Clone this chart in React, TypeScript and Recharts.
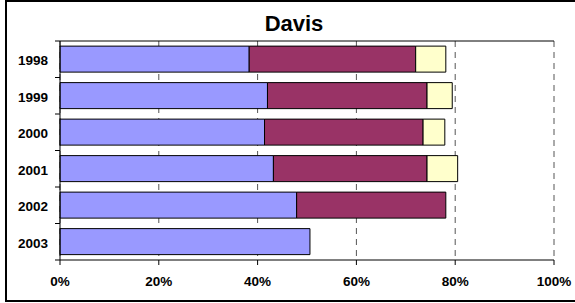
import React from 'react';
import { BarChart, Bar, XAxis, YAxis, CartesianGrid } from 'recharts';

const years = ['1998', '1999', '2000', '2001', '2002', '2003'];
const blueShare = [38.3, 42.0, 41.4, 43.2, 47.9, 50.6];
const maroonShare = [33.7, 32.3, 32.1, 31.1, 30.2, 0];
const yellowShare = [6.1, 5.1, 4.4, 6.2, 0, 0];
const pctTicks = [0, 20, 40, 60, 80, 100];

const data = years.map((year, i) => ({
  year,
  blue: blueShare[i],
  maroon: maroonShare[i],
  yellow: yellowShare[i],
}));

const FONT = '"Liberation Sans", Arial, sans-serif';

// category labels plus Excel-style tick marks on the band boundaries
const YearTick = (props: any) => {
  const { x, y, payload, index, visibleTicksCount } = props;
  const half = payload && payload.offset ? payload.offset : 18.25;
  const axisX = x + 12;
  const last = index === visibleTicksCount - 1;
  return (
    <g>
      <text
        x={x}
        y={y + 6}
        textAnchor="end"
        fontFamily={FONT}
        fontWeight="bold"
        fontSize={13.5}
        fill="#000"
      >
        {payload.value}
      </text>
      <line x1={axisX - 5} x2={axisX} y1={y - half} y2={y - half} stroke="#000" />
      {last && <line x1={axisX - 5} x2={axisX} y1={y + half} y2={y + half} stroke="#000" />}
    </g>
  );
};

const App: React.FC = () => {
  return (
    <div
      style={{
        position: 'absolute',
        left: 0,
        top: 0,
        width: 575,
        height: 303,
        overflow: 'hidden',
        background: '#fff',
      }}
    >
      <div
        style={{
          position: 'absolute',
          left: 5,
          top: 0,
          width: 620,
          height: 302,
          boxSizing: 'border-box',
          border: '2px solid #000',
        }}
      />
      <div
        style={{
          position: 'absolute',
          left: 5,
          top: 13,
          width: 578,
          textAlign: 'center',
          fontFamily: FONT,
          fontWeight: 'bold',
          fontSize: 22,
          lineHeight: '22px',
          color: '#000',
        }}
      >
        Davis
      </div>
      <div style={{ position: 'absolute', left: 0, top: 0 }}>
        <BarChart
          width={575}
          height={303}
          data={data}
          layout="vertical"
          margin={{ top: 40, right: 21, bottom: 13, left: 5 }}
          barCategoryGap="14%"
        >
          <CartesianGrid horizontal={false} stroke="#555" strokeDasharray="6 5" />
          <XAxis
            type="number"
            domain={[0, 100]}
            ticks={pctTicks}
            tickFormatter={(v: number) => `${v}%`}
            height={30}
            tickSize={5}
            tickMargin={11}
            axisLine={{ stroke: '#000' }}
            tickLine={{ stroke: '#000' }}
            tick={{ fill: '#000', fontFamily: FONT, fontWeight: 'bold', fontSize: 13.5 }}
          />
          <XAxis
            xAxisId="top"
            orientation="top"
            type="number"
            domain={[0, 100]}
            height={1}
            tick={false}
            tickLine={false}
            axisLine={{ stroke: '#000' }}
          />
          <YAxis
            type="category"
            dataKey="year"
            width={55}
            tickSize={5}
            tickMargin={7}
            tickLine={false}
            axisLine={{ stroke: '#000' }}
            tick={<YearTick />}
          />
          <Bar dataKey="blue" stackId="a" fill="#9999FF" stroke="#000" strokeWidth={1} isAnimationActive={false} />
          <Bar dataKey="maroon" stackId="a" fill="#993366" stroke="#000" strokeWidth={1} isAnimationActive={false} />
          <Bar dataKey="yellow" stackId="a" fill="#FFFFCC" stroke="#000" strokeWidth={1} isAnimationActive={false} />
        </BarChart>
      </div>
    </div>
  );
};

export default App;
